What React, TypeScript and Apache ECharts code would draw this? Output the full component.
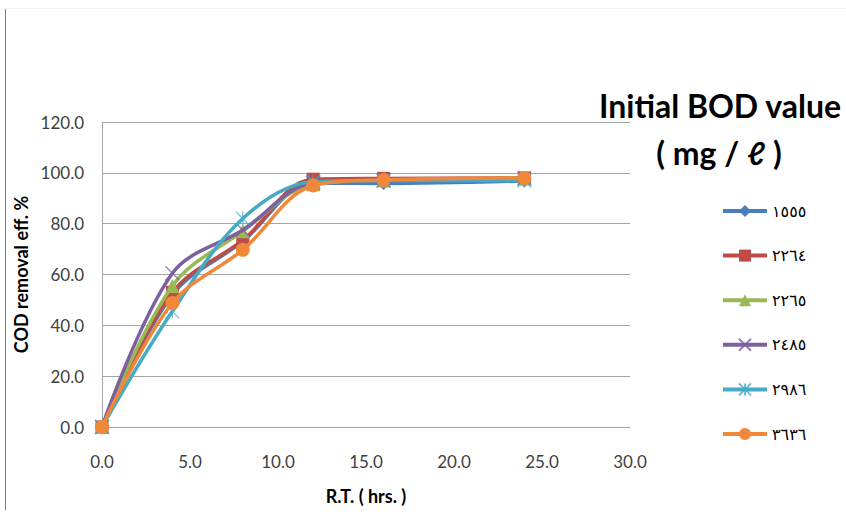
import React, { useEffect, useRef } from "react";
import * as echarts from "echarts";

const hours = [0, 4, 8, 12, 16, 24];
const seriesNames = ["١٥٥٥", "٢٢٦٤", "٢٢٦٥", "٢٤٨٥", "٢٩٨٦", "٣٦٣٦"];
const s1555 = [0, 52.0, 73.0, 96.0, 95.8, 96.8];
const s2264 = [0, 53.0, 73.5, 97.5, 97.8, 98.0];
const s2265 = [0, 55.5, 77.0, 95.5, 97.0, 97.8];
const s2485 = [0, 60.5, 77.5, 96.0, 97.0, 97.8];
const s2986 = [0, 45.5, 82.0, 96.5, 97.0, 97.0];
const s3636 = [0, 48.8, 69.7, 95.0, 97.2, 98.0];
const allValues = [s1555, s2264, s2265, s2485, s2986, s3636];
const yTicks = [0, 20, 40, 60, 80, 100, 120];
const xTicks = [0, 5, 10, 15, 20, 25, 30];

const colors = ["#4A7EBB", "#BE4B48", "#98B954", "#7D60A0", "#46AAC5", "#F0883A"];
const symbols = [
  "diamond",
  "rect",
  "triangle",
  "path://M0,0 L10,10 M10,0 L0,10",
  "path://M0,0 L10,10 M10,0 L0,10 M5,0 L5,10",
  "circle",
];
const symbolSizes = [13, 13, 14, 14, 14, 14];

export default function App() {
  const ref = useRef<HTMLDivElement>(null);
  useEffect(() => {
    if (!ref.current) return;
    const chart = echarts.init(ref.current, undefined, { renderer: "svg" });
    const font = "Lato, 'Open Sans', sans-serif";
    const series = allValues.map((vals, i) => {
      const isStroke = i === 3 || i === 4;
      return {
        name: seriesNames[i],
        type: "line",
        smooth: 0.35,
        data: hours.map((h, j) => [h, vals[j]]),
        symbol: symbols[i],
        symbolSize: symbolSizes[i],
        showSymbol: true,
        lineStyle: { color: colors[i], width: 3.5 },
        itemStyle: isStroke
          ? { color: colors[i], borderColor: colors[i], borderWidth: 1.2, opacity: 0.8 }
          : { color: colors[i] },
        z: 2 + i,
      };
    });
    chart.setOption({
      animation: false,
      backgroundColor: "#ffffff",
      textStyle: { fontFamily: font },
      grid: { left: 102, right: 216, top: 122, bottom: 90, containLabel: false },
      xAxis: {
        type: "value",
        min: xTicks[0],
        max: xTicks[xTicks.length - 1],
        interval: 5,
        name: "R.T. ( hrs. )",
        nameLocation: "middle",
        nameGap: 60,
        nameTextStyle: { fontFamily: font, fontSize: 18, fontWeight: "bold", color: "#000" },
        axisLine: { show: true, lineStyle: { color: "#a6a6a6", width: 1 } },
        axisTick: { show: false },
        splitLine: { show: false },
        axisLabel: {
          fontFamily: font,
          fontSize: 17,
          color: "#404040",
          margin: 26,
          formatter: (v: number) => v.toFixed(1),
        },
      },
      yAxis: {
        type: "value",
        min: yTicks[0],
        max: yTicks[yTicks.length - 1],
        interval: 20,
        name: "COD removal eff. %",
        nameLocation: "middle",
        nameGap: 71,
        nameRotate: 90,
        nameTextStyle: { fontFamily: font, fontSize: 18, fontWeight: "bold", color: "#000" },
        axisLine: { show: true, lineStyle: { color: "#a6a6a6", width: 1 } },
        axisTick: { show: false },
        splitLine: { show: true, lineStyle: { color: "#a6a6a6", width: 1 } },
        axisLabel: {
          fontFamily: font,
          fontSize: 17,
          color: "#404040",
          margin: 18,
          formatter: (v: number) => v.toFixed(1),
        },
      },
      legend: {
        orient: "vertical",
        left: 716,
        top: 198,
        itemWidth: 44,
        itemHeight: 15,
        itemGap: 28.6,
        data: seriesNames,
        lineStyle: { width: 4 },
        textStyle: { fontFamily: "'DejaVu Sans', sans-serif", fontSize: 16, color: "#000" },
      },
      graphic: [
        {
          type: "line",
          shape: { x1: 5.5, y1: 8, x2: 5.5, y2: 510 },
          style: { stroke: "#808080", lineWidth: 1 },
        },
        {
          type: "line",
          shape: { x1: 5, y1: 8.5, x2: 846, y2: 8.5 },
          style: { stroke: "#f2f2f2", lineWidth: 1 },
        },
        {
          type: "text",
          x: 720,
          y: 105,
          z: 11,
          style: {
            text: "Initial BOD value",
            fontFamily: font,
            fontSize: 32,
            fontWeight: "bold",
            fill: "#000",
            textAlign: "center",
            textVerticalAlign: "middle",
          },
        },
        {
          type: "text",
          x: 719,
          y: 152,
          z: 11,
          style: {
            text: "( mg / ℓ )",
            fontFamily: font,
            fontSize: 32,
            fontWeight: "bold",
            fill: "#000",
            textAlign: "center",
            textVerticalAlign: "middle",
          },
        },
      ],
      series,
    });
    return () => chart.dispose();
  }, []);
  return <div ref={ref} style={{ width: 846, height: 517, position: "absolute", left: 0, top: 0 }} />;
}
